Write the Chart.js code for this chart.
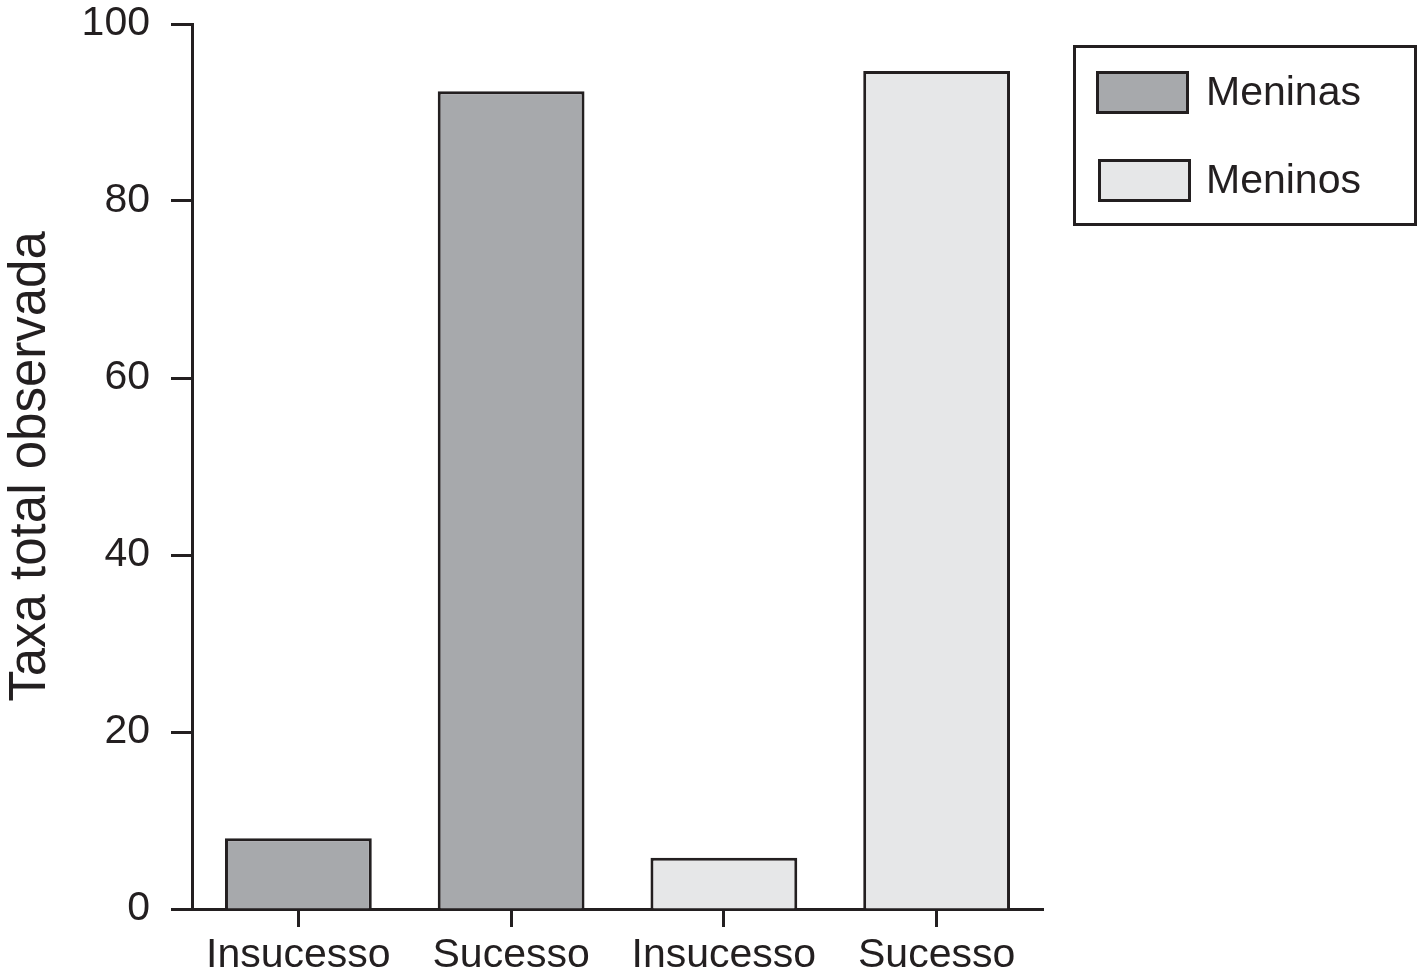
<!DOCTYPE html>
<html>
<head>
<meta charset="utf-8">
<script src="https://cdn.jsdelivr.net/npm/chart.js@4/dist/chart.umd.min.js"></script>
<style>
  html,body{margin:0;padding:0;background:#fff;}
  #wrap{width:1420px;height:978px;position:relative;}
</style>
</head>
<body>
<div id="wrap"><canvas id="c" width="1420" height="978"></canvas></div>
<script>
// ── dados ──
const categorias=['Insucesso','Sucesso','Insucesso','Sucesso'];
const meninas=[8.0,92.4,null,null];
const meninos=[null,null,5.8,94.7];
const yTicks=[0,20,40,60,80,100];
const tituloY='Taxa total observada';

const INK='#231f20';
const FONT='"Liberation Sans", Arial, Helvetica, sans-serif';

// legenda desenhada à mão, com moldura
const legendaBox={
  id:'legendaBox',
  afterDraw(chart){
    const ctx=chart.ctx;
    ctx.save();
    ctx.lineWidth=3;ctx.strokeStyle=INK;
    ctx.strokeRect(1074.5,46.5,341,178);
    const itens=[{x:1097.5,y:72.5},{x:1099.5,y:160.5}];
    chart.data.datasets.forEach((ds,i)=>{
      const p=itens[i];
      ctx.fillStyle=ds.backgroundColor;
      ctx.fillRect(p.x,p.y,90,40);
      ctx.strokeRect(p.x,p.y,90,40);
      ctx.fillStyle=INK;
      ctx.font='41px '+FONT;
      ctx.textBaseline='middle';
      ctx.fillText(ds.label,1206,p.y+21);
    });
    ctx.restore();
  }
};

new Chart(document.getElementById('c'),{
  type:'bar',
  data:{labels:categorias,datasets:[
    {label:'Meninas',data:meninas,backgroundColor:'#a7a9ac',borderColor:INK,borderWidth:3,grouped:false,barPercentage:0.69,categoryPercentage:1},
    {label:'Meninos',data:meninos,backgroundColor:'#e6e7e8',borderColor:INK,borderWidth:3,grouped:false,barPercentage:0.69,categoryPercentage:1}
  ]},
  options:{
    responsive:false,animation:false,
    layout:{padding:{top:24,right:377,left:0,bottom:0}},
    plugins:{legend:{display:false},tooltip:{enabled:false}},
    scales:{
      x:{
        grid:{display:true,offset:false,drawOnChartArea:false,tickLength:18,tickWidth:3,tickColor:INK},
        border:{display:true,color:INK,width:3},
        ticks:{color:INK,font:{family:FONT,size:41},padding:4,maxRotation:0},
        afterFit(s){s.height=69;s.paddingLeft=0;s.paddingRight=0;}
      },
      y:{
        min:0,max:100,
        afterBuildTicks(s){s.ticks=yTicks.map(v=>({value:v}));},
        grid:{display:true,drawOnChartArea:false,tickLength:21,tickWidth:3,tickColor:INK},
        border:{display:true,color:INK,width:3},
        ticks:{color:INK,font:{family:FONT,size:41},padding:21},
        title:{display:true,text:tituloY,color:INK,font:{family:FONT,size:51},padding:0},
        afterFit(s){s.width=192;s.paddingTop=0;s.paddingBottom=0;}
      }
    }
  },
  plugins:[legendaBox]
});
</script>
</body>
</html>
